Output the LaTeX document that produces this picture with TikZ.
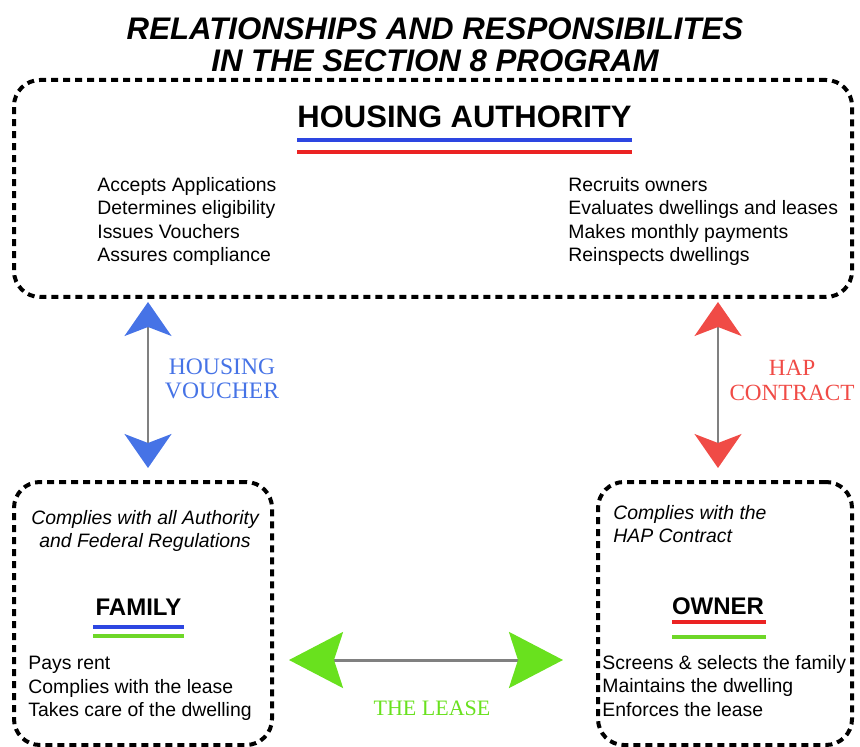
\documentclass[tikz,border=0pt]{standalone}
\usepackage{fontspec}
\setmainfont{Liberation Sans}
\newfontfamily\titlefont{Liberation Sans}
\newfontfamily\labelfont{Liberation Serif}
\usetikzlibrary{arrows.meta}

\definecolor{lineblue}{RGB}{45,70,225}
\definecolor{linered}{RGB}{235,35,35}
\definecolor{linegreen}{RGB}{110,215,40}
\definecolor{tipblue}{RGB}{70,115,230}
\definecolor{tipred}{RGB}{240,75,70}
\definecolor{tipgreen}{RGB}{105,225,30}

\begin{document}
\begin{tikzpicture}[x=0.5pt, y=-0.5pt,
    partybox/.style={draw, line width=2pt, dash pattern=on 3.5pt off 2.5pt, rounded corners=13pt, inner sep=0pt},
    duties/.style={anchor=north west, align=left, inner sep=0pt, font=\fontsize{9.7}{11.7}\selectfont},
    rule/.style={line width=2pt}]

    \useasboundingbox (0,0) rectangle (860,747);

    % Title
    \node[anchor=north, align=center, inner sep=0pt, font=\titlefont\bfseries\itshape\fontsize{15.6}{16}\selectfont]
        (title) at (435,17) {RELATIONSHIPS AND RESPONSIBILITES\\IN THE SECTION 8 PROGRAM};

    % Boxes
    \node[partybox, minimum width=419pt, minimum height=108.5pt] (ha) at (433,188.5) {};
    \node[partybox, minimum width=129pt, minimum height=131.5pt] (fam) at (143,613.5) {};
    \node[partybox, minimum width=127pt, minimum height=131.5pt] (own) at (725,613.5) {};

    % Housing authority
    \node[font=\bfseries\fontsize{15.5}{18}\selectfont, inner sep=0pt] (hatitle) at (464.5,117) {HOUSING AUTHORITY};
    \draw[rule, lineblue] (297,140) -- (632,140);
    \draw[rule, linered] (297,152) -- (632,152);
    \node[duties] (hafam) at (97,177) {Accepts Applications\\Determines eligibility\\Issues Vouchers\\Assures compliance};
    \node[duties] (haown) at (568,177) {Recruits owners\\Evaluates dwellings and leases\\Makes monthly payments\\Reinspects dwellings};

    % Family
    \node[align=center, inner sep=0pt, font=\itshape\fontsize{9.7}{11.7}\selectfont] (famrule) at (145,531) {Complies with all Authority\\and Federal Regulations};
    \node[font=\bfseries\fontsize{12}{14}\selectfont, inner sep=0pt] (famtitle) at (138.5,607) {FAMILY};
    \draw[rule, lineblue] (93,627) -- (184,627);
    \draw[rule, linegreen] (93,636) -- (184,636);
    \node[duties] (famduty) at (28,656) {Pays rent\\Complies with the lease\\Takes care of the dwelling};

    % Owner
    \node[anchor=north west, align=left, inner sep=0pt, font=\itshape\fontsize{9.7}{11.7}\selectfont] (ownrule) at (613,505) {Complies with the\\HAP Contract};
    \node[font=\bfseries\fontsize{12}{14}\selectfont, inner sep=0pt] (owntitle) at (718,606) {OWNER};
    \draw[rule, linered] (672,622) -- (766,622);
    \draw[rule, linegreen] (672,637) -- (766,637);
    \node[duties] (ownduty) at (602,655) {Screens \& selects the family\\Maintains the dwelling\\Enforces the lease};

    % Connectors
    \coordinate (voucherx) at (148,0);
    \coordinate (hapx) at (718,0);
    \coordinate (leasey) at (0,660);
    \draw[gray, line width=0.8pt, shorten <=6pt, shorten >=1.5pt,
        arrows={Stealth[length=17pt, width=23.5pt, inset=4.5pt, color=tipblue]-Stealth[length=17pt, width=23.5pt, inset=4.5pt, color=tipblue]}]
        (voucherx |- fam.north) -- (voucherx |- ha.south);
    \draw[gray, line width=0.8pt, shorten <=6pt, shorten >=1.5pt,
        arrows={Stealth[length=17pt, width=23.5pt, inset=4.5pt, color=tipred]-Stealth[length=17pt, width=23.5pt, inset=4.5pt, color=tipred]}]
        (hapx |- own.north) -- (hapx |- ha.south);
    \draw[gray, line width=1.5pt, shorten <=7.5pt, shorten >=16.5pt,
        arrows={Stealth[length=27pt, width=28pt, inset=4.5pt, color=tipgreen]-Stealth[length=27pt, width=28pt, inset=4.5pt, color=tipgreen]}]
        (fam.east |- leasey) -- (own.west |- leasey);

    % Labels
    \node[align=center, inner sep=0pt, text=tipblue, font=\labelfont\fontsize{11.8}{12}\selectfont] (voucher) at (222,379) {HOUSING\\VOUCHER};
    \node[align=center, inner sep=0pt, text=tipred, font=\labelfont\fontsize{11.6}{12.5}\selectfont] (hap) at (792,380.5) {HAP\\CONTRACT};
    \node[inner sep=0pt, text=tipgreen, font=\labelfont\fontsize{11}{12}\selectfont] (lease) at (432,708) {THE LEASE};

\end{tikzpicture}
\end{document}
